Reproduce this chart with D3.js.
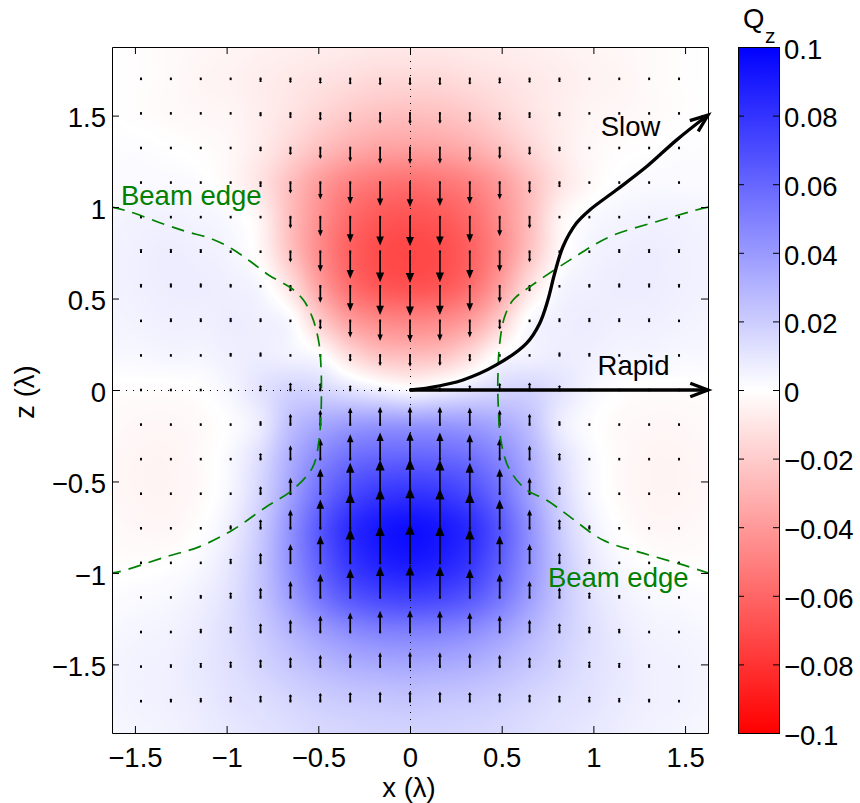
<!DOCTYPE html>
<html><head><meta charset="utf-8">
<script src="https://cdn.jsdelivr.net/npm/d3@7"></script>
<style>
html,body{margin:0;padding:0;background:#fff;}
svg{display:block;font-family:"Liberation Sans",Arial,Helvetica,sans-serif;}
</style></head><body>
<svg id="chart" width="860" height="803"></svg>
<script>
// ---------------- DATA ----------------
const xGrid = [-1.63,-1.467,-1.304,-1.141,-0.978,-0.815,-0.652,-0.489,-0.326,-0.163,0,0.163,0.326,0.489,0.652,0.815,0.978,1.141,1.304,1.467,1.63];
const zGrid = [1.89,1.701,1.512,1.323,1.134,0.945,0.756,0.567,0.378,0.189,0,-0.189,-0.378,-0.567,-0.756,-0.945,-1.134,-1.323,-1.512,-1.701,-1.89];
// Q_z sampled on the grid (rows follow zGrid, columns follow xGrid)
const qzValues = [
[0,-0.001,-0.002,-0.003,-0.004,-0.005,-0.006,-0.007,-0.008,-0.009,-0.009,-0.009,-0.008,-0.007,-0.006,-0.005,-0.004,-0.003,-0.002,-0.001,0],
[0,-0.001,-0.002,-0.004,-0.005,-0.007,-0.009,-0.011,-0.013,-0.015,-0.015,-0.015,-0.013,-0.011,-0.009,-0.007,-0.005,-0.004,-0.002,-0.001,0],
[0,-0.001,-0.002,-0.003,-0.004,-0.007,-0.011,-0.016,-0.021,-0.024,-0.025,-0.024,-0.021,-0.016,-0.011,-0.007,-0.004,-0.003,-0.002,-0.001,0],
[0.001,0.001,0,-0.001,-0.003,-0.008,-0.016,-0.025,-0.032,-0.036,-0.037,-0.036,-0.032,-0.025,-0.016,-0.008,-0.003,-0.001,0,0.001,0.001],
[0.002,0.002,0.002,0.001,-0.003,-0.011,-0.025,-0.039,-0.049,-0.054,-0.056,-0.054,-0.049,-0.039,-0.025,-0.011,-0.003,0.001,0.002,0.002,0.002],
[0.004,0.005,0.005,0.004,0.002,-0.005,-0.026,-0.044,-0.058,-0.065,-0.067,-0.065,-0.058,-0.044,-0.026,-0.005,0.002,0.004,0.005,0.005,0.004],
[0.005,0.006,0.007,0.006,0.004,-0.003,-0.024,-0.046,-0.062,-0.070,-0.072,-0.070,-0.062,-0.046,-0.024,-0.003,0.004,0.006,0.007,0.006,0.005],
[0.005,0.006,0.007,0.007,0.006,0.003,-0.012,-0.038,-0.057,-0.066,-0.068,-0.066,-0.057,-0.038,-0.012,0.003,0.006,0.007,0.007,0.006,0.005],
[0.004,0.005,0.006,0.006,0.007,0.006,0.002,-0.020,-0.038,-0.046,-0.048,-0.046,-0.038,-0.020,0.002,0.006,0.007,0.006,0.006,0.005,0.004],
[0.003,0.003,0.004,0.004,0.006,0.007,0.005,0.001,-0.014,-0.024,-0.026,-0.024,-0.014,0.001,0.005,0.007,0.006,0.004,0.004,0.003,0.003],
[-0.001,-0.001,-0.001,0,0.004,0.011,0.017,0.016,0.011,0.006,0.002,0.006,0.011,0.016,0.017,0.011,0.004,0,-0.001,-0.001,-0.001],
[-0.002,-0.003,-0.003,-0.002,0.001,0.008,0.025,0.034,0.039,0.041,0.041,0.041,0.039,0.034,0.025,0.008,0.001,-0.002,-0.003,-0.003,-0.002],
[-0.003,-0.004,-0.004,-0.002,0.003,0.014,0.032,0.047,0.057,0.061,0.062,0.061,0.057,0.047,0.032,0.014,0.003,-0.002,-0.004,-0.004,-0.003],
[-0.003,-0.004,-0.004,-0.002,0.004,0.017,0.037,0.057,0.071,0.078,0.080,0.078,0.071,0.057,0.037,0.017,0.004,-0.002,-0.004,-0.004,-0.003],
[-0.002,-0.003,-0.003,0,0.007,0.021,0.043,0.066,0.083,0.091,0.094,0.091,0.083,0.066,0.043,0.021,0.007,0,-0.003,-0.003,-0.002],
[-0.001,-0.001,0,0.003,0.010,0.023,0.043,0.063,0.079,0.087,0.090,0.087,0.079,0.063,0.043,0.023,0.010,0.003,0,-0.001,-0.001],
[0.001,0.002,0.003,0.006,0.012,0.023,0.038,0.054,0.066,0.072,0.074,0.072,0.066,0.054,0.038,0.023,0.012,0.006,0.003,0.002,0.001],
[0.003,0.004,0.005,0.008,0.013,0.020,0.029,0.038,0.045,0.049,0.050,0.049,0.045,0.038,0.029,0.020,0.013,0.008,0.005,0.004,0.003],
[0.004,0.005,0.006,0.009,0.012,0.017,0.022,0.027,0.031,0.033,0.034,0.033,0.031,0.027,0.022,0.017,0.012,0.009,0.006,0.005,0.004],
[0.004,0.005,0.006,0.008,0.011,0.013,0.016,0.019,0.021,0.022,0.023,0.022,0.021,0.019,0.016,0.013,0.011,0.008,0.006,0.005,0.004],
[0.003,0.004,0.005,0.007,0.009,0.011,0.013,0.015,0.016,0.017,0.017,0.017,0.016,0.015,0.013,0.011,0.009,0.007,0.005,0.004,0.003]
];
const xTicks = [-1.5,-1,-0.5,0,0.5,1,1.5];
const xTickLabels = ["\u22121.5","\u22121","\u22120.5","0","0.5","1","1.5"];
const zTicks = [-1.5,-1,-0.5,0,0.5,1,1.5];
const zTickLabels = ["\u22121.5","\u22121","\u22120.5","0","0.5","1","1.5"];
const cbTicks = [-0.1,-0.08,-0.06,-0.04,-0.02,0,0.02,0.04,0.06,0.08,0.1];
const cbTickLabels = ["\u22120.1","\u22120.08","\u22120.06","\u22120.04","\u22120.02","0","0.02","0.04","0.06","0.08","0.1"];
const beamEdgeLeft = [[-1.625,1.0],[-1.53,0.975],[-1.337,0.905],[-1.216,0.865],[-1.092,0.83],[-0.974,0.774],[-0.874,0.705],[-0.765,0.625],[-0.647,0.556],[-0.58,0.49],[-0.53,0.39],[-0.497,0.26],[-0.485,0.12],[-0.483,0],[-0.485,-0.12],[-0.496,-0.273],[-0.53,-0.42],[-0.64,-0.546],[-0.783,-0.638],[-0.967,-0.765],[-1.147,-0.856],[-1.328,-0.911],[-1.583,-0.993],[-1.625,-1.0]];
const beamEdgeRight = [[1.625,1.0],[1.525,0.974],[1.343,0.92],[1.089,0.838],[0.871,0.71],[0.653,0.564],[0.562,0.492],[0.516,0.40],[0.489,0.255],[0.48,0.1],[0.48,-0.055],[0.498,-0.29],[0.544,-0.437],[0.635,-0.546],[0.744,-0.601],[0.871,-0.692],[1.052,-0.82],[1.27,-0.892],[1.489,-0.956],[1.625,-1.0]];
const slowPath = [[0,0],[0.107,0.013],[0.289,0.055],[0.471,0.137],[0.635,0.255],[0.707,0.364],[0.752,0.492],[0.789,0.638],[0.834,0.783],[0.907,0.911],[0.98,0.984],[1.125,1.093],[1.289,1.22],[1.453,1.366],[1.625,1.503]];
const rapidPath = [[0,0],[1.625,0]];

// ---------------- LAYOUT ----------------
const svg = d3.select("#chart");
const FS = 27.5;
const x = d3.scaleLinear().domain([-1.625,1.625]).range([112,708]);
const z = d3.scaleLinear().domain([-1.875,1.875]).range([733,47]);
const cb = d3.scaleLinear().domain([-0.1,0.1]).range([733,47]);
const color = d3.scaleLinear().domain([-0.1,0,0.1]).range(["#ff0000","#ffffff","#0000ff"]).clamp(true);

// ---------------- HEATMAP ----------------
const ix = d3.scaleLinear().domain([xGrid[0], xGrid[xGrid.length-1]]).range([0, xGrid.length-1]);
const iz = d3.scaleLinear().domain([zGrid[0], zGrid[zGrid.length-1]]).range([0, zGrid.length-1]);
const nR = qzValues.length, nC = qzValues[0].length;
const clampI = (v,a,b)=>Math.max(a,Math.min(b,v));
function cr(p0,p1,p2,p3,t){return p1+0.5*t*(p2-p0+t*(2*p0-5*p1+4*p2-p3+t*(3*(p1-p2)+p3-p0)));}
function sample(fj,fi){
  const j0=Math.floor(fj), i0=Math.floor(fi), tj=fj-j0, ti=fi-i0;
  const r=[];
  for(let m=-1;m<=2;m++){
    const row=qzValues[clampI(j0+m,0,nR-1)];
    const c=k=>row[clampI(i0+k,0,nC-1)];
    r.push(cr(c(-1),c(0),c(1),c(2),ti));
  }
  return cr(r[0],r[1],r[2],r[3],tj);
}
const lut = d3.range(0,2001).map(k=>d3.rgb(color(-0.1+k*0.0001)));
const x0=x.range()[0], x1=x.range()[1], y0=z.range()[1], y1=z.range()[0];
const pw=Math.round(x1-x0), ph=Math.round(y1-y0);
const canvas=document.createElement("canvas"); canvas.width=pw; canvas.height=ph;
const ctx=canvas.getContext("2d"); const img=ctx.createImageData(pw,ph);
for(let py=0;py<ph;py++){
  const fj=iz(z.invert(y0+py+0.5));
  for(let px=0;px<pw;px++){
    const fi=ix(x.invert(x0+px+0.5));
    const v=sample(fj,fi);
    const c=lut[clampI(Math.round((v+0.1)/0.0001),0,2000)];
    const o=(py*pw+px)*4;
    img.data[o]=c.r; img.data[o+1]=c.g; img.data[o+2]=c.b; img.data[o+3]=255;
  }
}
ctx.putImageData(img,0,0);
svg.append("defs").append("clipPath").attr("id","plotclip").append("rect")
  .attr("x",x0).attr("y",y0).attr("width",pw).attr("height",ph);
svg.append("image").attr("x",x0).attr("y",y0).attr("width",pw).attr("height",ph)
  .attr("preserveAspectRatio","none").attr("href",canvas.toDataURL());

const plot = svg.append("g").attr("clip-path","url(#plotclip)");

// zero dotted lines
plot.append("line").attr("x1",x(0)+0.5).attr("x2",x(0)+0.5).attr("y1",z(1.875)).attr("y2",z(-1.875))
  .attr("stroke","#000").attr("stroke-width",1).attr("stroke-dasharray","1,6");
plot.append("line").attr("x1",x(-1.625)).attr("x2",x(1.625)).attr("y1",z(0)+0.5).attr("y2",z(0)+0.5)
  .attr("stroke","#000").attr("stroke-width",1).attr("stroke-dasharray","1,6");

// ---------------- QUIVER ----------------
const S = 436; // px per unit Q_z
const qg = plot.append("g");
for(let j=1;j<nR-1;j++){
  for(let i=1;i<nC-1;i++){
    const v=qzValues[j][i];
    const px=x(xGrid[i]), py=z(zGrid[j]);
    qg.append("rect").attr("x",px-1).attr("y",py-1.3).attr("width",2).attr("height",2.6).attr("fill","#000");
    const len=Math.abs(v*S);
    if(len>2.5){
      const dir = v>0 ? -1 : 1;
      const tip = py + dir*len;
      const hl = Math.min(0.32*len, 11);
      const hw = Math.max(hl*0.42, 1.8);
      qg.append("line").attr("x1",px).attr("x2",px).attr("y1",py).attr("y2",tip - dir*hl*0.5)
        .attr("stroke","#000").attr("stroke-width",1.7);
      qg.append("path").attr("d",`M${px},${tip}L${px-hw},${tip-dir*hl}L${px+hw},${tip-dir*hl}Z`).attr("fill","#000");
    }
  }
}

// ---------------- BEAM EDGE ----------------
const lineGen = d3.line().x(d=>x(d[0])).y(d=>z(d[1])).curve(d3.curveCatmullRom.alpha(0.5));
[beamEdgeLeft, beamEdgeRight].forEach(pts=>{
  plot.append("path").attr("d",lineGen(pts)).attr("fill","none").attr("stroke","#008000")
    .attr("stroke-width",1.7).attr("stroke-dasharray","13,8");
});

// ---------------- TRAJECTORIES ----------------
function drawArrowPath(pts){
  const p = svg.append("path").attr("d",lineGen(pts)).attr("fill","none").attr("stroke","#000")
    .attr("stroke-width",3.3).attr("stroke-linecap","butt");
  const node=p.node(); const L=node.getTotalLength();
  const a=node.getPointAtLength(L-14), b=node.getPointAtLength(L);
  const ang=Math.atan2(b.y-a.y,b.x-a.x);
  const wl=19, ha=21*Math.PI/180;
  const w1=[b.x-wl*Math.cos(ang-ha), b.y-wl*Math.sin(ang-ha)];
  const w2=[b.x-wl*Math.cos(ang+ha), b.y-wl*Math.sin(ang+ha)];
  svg.append("path").attr("d",`M${w1[0]},${w1[1]}L${b.x},${b.y}L${w2[0]},${w2[1]}`)
    .attr("fill","none").attr("stroke","#000").attr("stroke-width",3.3).attr("stroke-linejoin","miter");
}
drawArrowPath(slowPath);
drawArrowPath(rapidPath);

// ---------------- AXES ----------------
function styleAxis(g){
  g.attr("font-family",null).attr("font-size",null);
  g.selectAll(".domain").attr("stroke","#000").attr("stroke-width",1);
  g.selectAll(".tick line").attr("stroke","#000").attr("stroke-width",1);
  g.selectAll(".tick text").attr("fill","#000").style("font-size",FS+"px");
}
svg.append("g").attr("transform",`translate(0,${y1})`)
  .call(d3.axisBottom(x).tickValues(xTicks).tickFormat((d,i)=>xTickLabels[i]).tickSizeInner(-7).tickSizeOuter(0).tickPadding(14))
  .call(styleAxis);
svg.append("g").attr("transform",`translate(0,${y0})`)
  .call(d3.axisTop(x).tickValues(xTicks).tickFormat("").tickSizeInner(-7).tickSizeOuter(0))
  .call(styleAxis);
const la = svg.append("g").attr("transform",`translate(${x0},0)`)
  .call(d3.axisLeft(z).tickValues(zTicks).tickFormat((d,i)=>zTickLabels[i]).tickSizeInner(-7).tickSizeOuter(0).tickPadding(6))
  .call(styleAxis);
la.selectAll(".tick text").attr("dy","0.41em");
svg.append("g").attr("transform",`translate(${x1},0)`)
  .call(d3.axisRight(z).tickValues(zTicks).tickFormat("").tickSizeInner(-7).tickSizeOuter(0))
  .call(styleAxis);

svg.append("text").attr("x",(x0+x1)/2-1).attr("y",797).attr("text-anchor","middle")
  .style("font-size",FS+"px").text("x (\u03bb)");
svg.append("text").attr("transform",`translate(34,${(y0+y1)/2+2}) rotate(-90)`).attr("text-anchor","middle")
  .style("font-size",FS+"px").text("z (\u03bb)");

// ---------------- ANNOTATIONS ----------------
const ann = [
  {t:"Beam edge", x:-1.576, z:1.011, c:"#008000"},
  {t:"Beam edge", x:0.752, z:-1.077, c:"#008000"},
  {t:"Slow", x:1.040, z:1.388, c:"#000"},
  {t:"Rapid", x:1.023, z:0.082, c:"#000"}
];
svg.selectAll("text.ann").data(ann).join("text").attr("class","ann")
  .attr("x",d=>x(d.x)).attr("y",d=>z(d.z)).attr("fill",d=>d.c)
  .style("font-size",FS+"px").text(d=>d.t);

// ---------------- COLORBAR ----------------
const cbx0=738, cbw=41;
const grad = svg.select("defs").append("linearGradient").attr("id","cbgrad")
  .attr("x1",0).attr("y1",1).attr("x2",0).attr("y2",0);
d3.range(0,21).forEach(k=>{
  const v=-0.1+k*0.01;
  grad.append("stop").attr("offset",k/20).attr("stop-color",color(v));
});
svg.append("rect").attr("x",cbx0).attr("y",cb(0.1)).attr("width",cbw).attr("height",cb(-0.1)-cb(0.1))
  .attr("fill","url(#cbgrad)");
svg.append("g").attr("transform",`translate(${cbx0},0)`)
  .call(d3.axisLeft(cb).tickValues(cbTicks).tickFormat("").tickSizeInner(-6).tickSizeOuter(0))
  .call(styleAxis);
const cra = svg.append("g").attr("transform",`translate(${cbx0+cbw},0)`)
  .call(d3.axisRight(cb).tickValues(cbTicks).tickFormat((d,i)=>cbTickLabels[i]).tickSizeInner(-6).tickSizeOuter(0).tickPadding(5))
  .call(styleAxis);
cra.selectAll(".tick text").attr("dy","0.41em");
svg.append("rect").attr("x",cbx0+0.5).attr("y",cb(0.1)+0.5).attr("width",cbw).attr("height",cb(-0.1)-cb(0.1))
  .attr("fill","none").attr("stroke","#000").attr("stroke-width",1);
svg.append("text").attr("x",743).attr("y",28).style("font-size",FS+"px").text("Q");
svg.append("text").attr("x",765).attr("y",43).style("font-size","21px").text("z");
</script>
</body></html>
